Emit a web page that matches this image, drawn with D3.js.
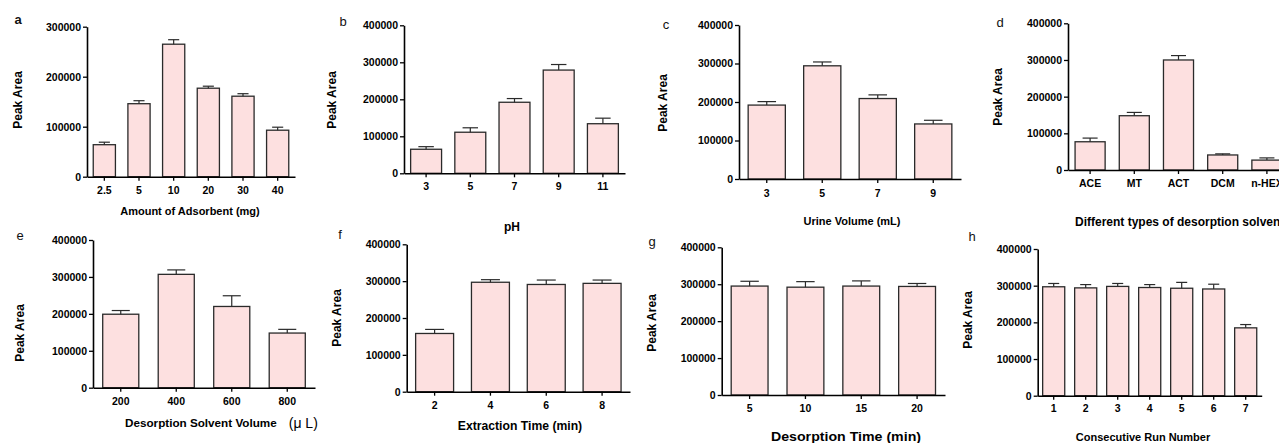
<!DOCTYPE html>
<html><head><meta charset="utf-8">
<script src="https://cdn.jsdelivr.net/npm/d3@7"></script>
<style>
html,body{margin:0;padding:0;background:#fff;}
svg{display:block;font-family:"Liberation Sans",Arial,sans-serif;}
</style></head>
<body><svg id="c" width="1279" height="443"></svg>
<script>
// ---- data ----
const ticks3 = [0,100000,200000,300000];
const ticks4 = [0,100000,200000,300000,400000];

const catsA = ["2.5","5","10","20","30","40"];
const valsA = [64000,146000,265000,177000,161000,93000];
const errsA = [5000,6000,9000,4000,5000,6000];

const catsB = ["3","5","7","9","11"];
const valsB = [65000,111000,192000,279000,134000];
const errsB = [7000,12000,10000,15000,15000];

const catsC = ["3","5","7","9"];
const valsC = [192000,294000,209000,143000];
const errsC = [9000,10000,9500,9500];

const catsD = ["ACE","MT","ACT","DCM","n-HEX"];
const valsD = [77000,148000,300000,41000,27000];
const errsD = [10000,9000,12000,3000,6000];

const catsE = ["200","400","600","800"];
const valsE = [199000,307000,220000,148000];
const errsE = [10000,12000,29000,10000];

const catsF = ["2","4","6","8"];
const valsF = [158000,297000,291000,294000];
const errsF = [11000,7000,12000,9000];

const catsG = ["5","10","15","20"];
const valsG = [295000,292000,295000,294000];
const errsG = [13000,15000,14000,8000];

const catsH = ["1","2","3","4","5","6","7"];
const valsH = [297000,294000,298000,295000,293000,291000,185000];
const errsH = [9000,9000,8000,8000,16000,13000,9000];

const panels = [
 {id:"a", cats:catsA, vals:valsA, errs:errsA, ymax:300000, ticks:ticks3, xTitle:"Amount of Adsorbent (mg)"},
 {id:"b", cats:catsB, vals:valsB, errs:errsB, ymax:400000, ticks:ticks4, xTitle:"pH"},
 {id:"c", cats:catsC, vals:valsC, errs:errsC, ymax:400000, ticks:ticks4, xTitle:"Urine Volume (mL)"},
 {id:"d", cats:catsD, vals:valsD, errs:errsD, ymax:400000, ticks:ticks4, xTitle:"Different types of desorption solvents"},
 {id:"e", cats:catsE, vals:valsE, errs:errsE, ymax:400000, ticks:ticks4, xTitle:"Desorption Solvent Volume"},
 {id:"f", cats:catsF, vals:valsF, errs:errsF, ymax:400000, ticks:ticks4, xTitle:"Extraction Time (min)"},
 {id:"g", cats:catsG, vals:valsG, errs:errsG, ymax:400000, ticks:ticks4, xTitle:"Desorption Time (min)"},
 {id:"h", cats:catsH, vals:valsH, errs:errsH, ymax:400000, ticks:ticks4, xTitle:"Consecutive Run Number"}
];

// ---- layout ----
const layout = {
 a:{x0:87, x1:295, yt:26.7, yb:176.7, pad:0.36, tp:6, lx:18, ly:24, ylx:18, yly:100, tx:190, ty:215, tfs:11, anchor:"middle", letterBold:true},
 b:{x0:404, x1:625, yt:25.3, yb:173.3, pad:0.3, tp:5, lx:343, ly:26, ylx:332, yly:100, tx:512, ty:231, tfs:12, anchor:"middle"},
 c:{x0:739, x1:961, yt:25, yb:179, pad:0.33, tp:7, lx:666, ly:29, ylx:663, yly:103, tx:852, ty:225, tfs:11, anchor:"middle"},
 d:{x0:1068, x1:1289, yt:23.3, yb:170, pad:0.32, tp:6, lx:1000, ly:27, ylx:998, yly:97, tx:1075, ty:225.5, tfs:12, anchor:"start"},
 e:{x0:93, x1:315, yt:240, yb:387.7, pad:0.35, tp:6, lx:20, ly:240, ylx:20, yly:333, tx:125, ty:427, tfs:11.7, anchor:"start", extra:true},
 f:{x0:406.7, x1:630, yt:244.3, yb:391.7, pad:0.32, tp:6, lx:340, ly:239, ylx:337, yly:318, tx:520, ty:430, tfs:12.2, anchor:"middle"},
 g:{x0:721.7, x1:945, yt:247.3, yb:395, pad:0.34, tp:6, lx:652, ly:246, ylx:652, yly:323, tx:846, ty:441, tfs:12, tlen:150, anchor:"middle"},
 h:{x0:1037.7, x1:1261.7, yt:249, yb:395.7, pad:0.31, tp:5, lx:972, ly:241, ylx:968, yly:320, tx:1143, ty:441, tfs:11, anchor:"middle"}
};

const svg = d3.select("#c");
const FILL = "#fde0e0", STROKE = "#2a2a2a";

panels.forEach(p => {
  const L = layout[p.id];
  const x = d3.scaleBand().domain(p.cats).range([L.x0, L.x1]).paddingInner(L.pad).paddingOuter(L.pad/2);
  const y = d3.scaleLinear().domain([0, p.ymax]).range([L.yb, L.yt]);
  const g = svg.append("g");
  const bw = x.bandwidth();

  g.selectAll("rect.bar").data(p.cats).join("rect")
    .attr("x", c => x(c)).attr("width", bw)
    .attr("y", (c,i) => y(p.vals[i])).attr("height", (c,i) => y(0) - y(p.vals[i]))
    .attr("fill", FILL).attr("stroke", STROKE).attr("stroke-width", 1.3);

  g.selectAll("line.err").data(p.cats).join("line")
    .attr("x1", c => x(c) + bw/2).attr("x2", c => x(c) + bw/2)
    .attr("y1", (c,i) => y(p.vals[i])).attr("y2", (c,i) => y(p.vals[i] + p.errs[i]))
    .attr("stroke", STROKE).attr("stroke-width", 1.2);
  g.selectAll("line.cap").data(p.cats).join("line")
    .attr("x1", c => x(c) + bw/4).attr("x2", c => x(c) + bw*3/4)
    .attr("y1", (c,i) => y(p.vals[i] + p.errs[i])).attr("y2", (c,i) => y(p.vals[i] + p.errs[i]))
    .attr("stroke", STROKE).attr("stroke-width", 1.2);

  const ya = g.append("g").attr("transform", `translate(${L.x0},0)`)
    .call(d3.axisLeft(y).tickValues(p.ticks).tickFormat(d3.format("d")).tickSize(4).tickSizeOuter(0).tickPadding(2));
  const xa = g.append("g").attr("transform", `translate(0,${L.yb})`)
    .call(d3.axisBottom(x).tickSize(4).tickSizeOuter(0).tickPadding(L.tp));
  [ya, xa].forEach(a => {
    a.select(".domain").attr("stroke", "#000").attr("stroke-width", 1.6);
    a.selectAll(".tick line").attr("stroke", "#000").attr("stroke-width", 1.3);
    a.selectAll(".tick text").attr("font-family", "Liberation Sans, Arial, sans-serif")
      .attr("font-size", 10.5).attr("font-weight", "bold").attr("fill", "#000");
  });

  g.append("text").attr("x", L.lx).attr("y", L.ly).attr("text-anchor", "middle")
    .attr("font-size", 13).attr("font-weight", L.letterBold ? "bold" : "normal").attr("fill", "#111").text(p.id);

  g.append("text").attr("transform", `translate(${L.ylx},${L.yly}) rotate(-90)`)
    .attr("text-anchor", "middle").attr("dy", "0.35em")
    .attr("font-size", 12).attr("font-weight", "bold").attr("fill", "#000").text("Peak Area");

  const t = g.append("text").attr("x", L.tx).attr("y", L.ty).attr("text-anchor", L.anchor)
    .attr("font-size", L.tfs).attr("font-weight", "bold").attr("fill", "#000").text(p.xTitle);
  if (L.tlen) t.attr("textLength", L.tlen).attr("lengthAdjust", "spacingAndGlyphs");
  if (L.extra) {
    const w = t.node().getComputedTextLength();
    g.append("text").attr("x", L.tx + w + 12).attr("y", L.ty + 1)
      .attr("font-size", 14).attr("fill", "#000").text("(\u03bc L)");
  }
});
</script></body></html>
